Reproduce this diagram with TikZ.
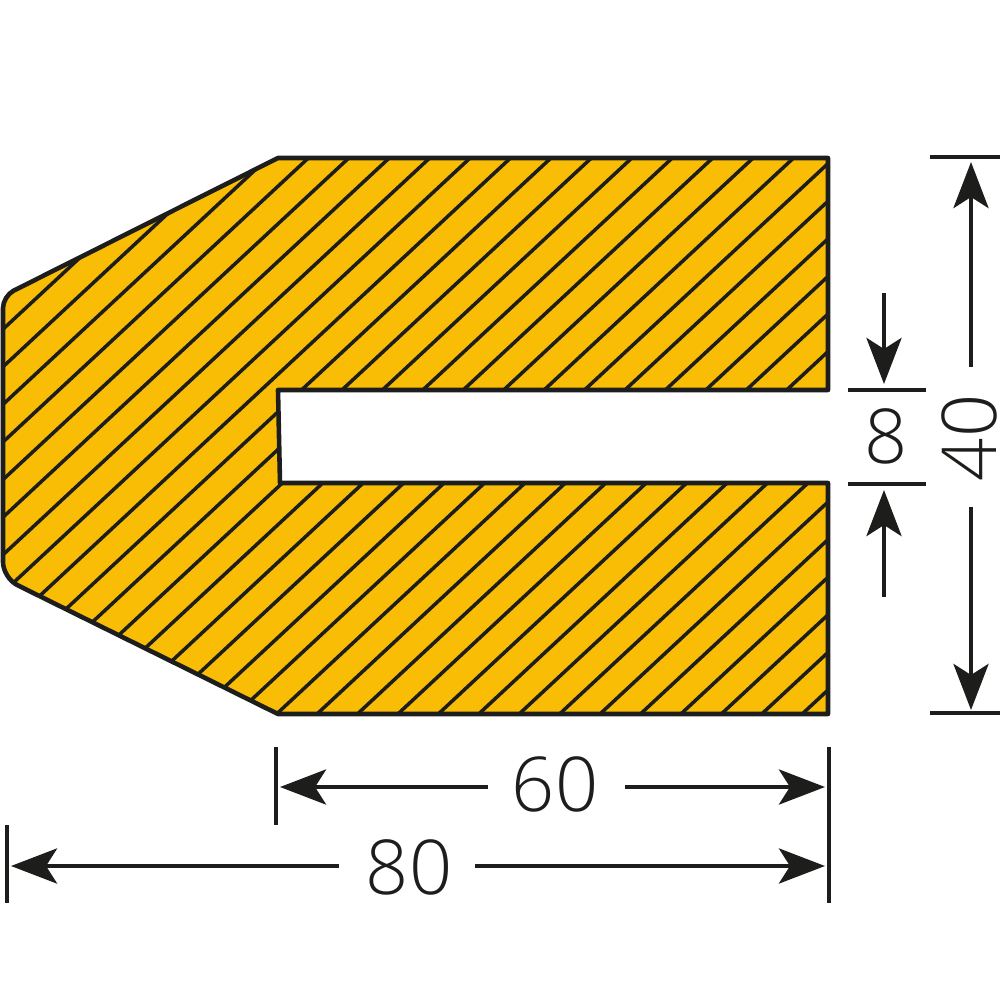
\documentclass[tikz,border=0pt]{standalone}
\usepackage{fontspec}
\setmainfont{Open Sans Light}
\usetikzlibrary{arrows.meta}
\definecolor{bumper}{HTML}{F9BD06}
\definecolor{ink}{HTML}{1D1D1B}
\begin{document}
\begin{tikzpicture}[x=.01cm, y=-.01cm]
    \tikzstyle{outline} = [draw=ink, line width=1.3pt, line join=round];
    \tikzstyle{hatch} = [ink, line width=1pt];
    \tikzstyle{extline} = [ink, line width=1.1pt];
    \tikzstyle{dimline} = [ink, line width=1.3pt, -{Stealth[length=4.6mm, width=3.5mm, inset=1.1mm]}];
    \tikzstyle{dimtext} = [inner sep=0, text=ink, font=\fontsize{21.5}{22}\selectfont];
    \useasboundingbox (0,0) rectangle (1000,1000);
    \def\shape{(278,158) -- (828,158) -- (828,390) -- (278,390) -- (280,483) -- (828,483) -- (828,714) -- (278,714)
        [rounded corners=1.6mm] -- (3,578) [rounded corners=1.2mm] -- (3,296) [sharp corners] -- cycle}
    \fill[bumper] \shape;
    \begin{scope}
        \clip \shape;
        \foreach \k in {0,...,30}
        {\draw[hatch] (0,332+37.6*\k) -- (1000,332+37.6*\k-930);}
    \end{scope}
    \draw[outline] \shape;
    % end points of the dimension lines
    \foreach \n/\x/\y in {extA/930/157, extB/1000/157, extC/930/713, extD/1000/713,
        extE/848/390, extF/926/390, extG/848/484, extH/926/484,
        extI/276/747, extJ/276/825, extK/829/747, extL/829/903, extM/7/825, extN/7/903,
        hStartA/971/367, hEndA/971/162, hStartB/971/507, hEndB/971/710,
        hStartC/884/293, hEndC/884/384, hStartD/884/597, hEndD/884/490,
        hStartE/488/787, hEndE/280/787, hStartF/625/787, hEndF/825/787,
        hStartG/339/866, hEndG/11/866, hStartH/475/866, hEndH/825/866}
    {\coordinate (\n) at (\x,\y);}
    \foreach \a/\b in {extA/extB, extC/extD, extE/extF, extG/extH, extI/extJ, extK/extL, extM/extN}
    {\draw[extline] (\a) -- (\b);}
    \foreach \a in {A,...,H}
    {\draw[dimline] (hStart\a) -- (hEnd\a);}
    \node[dimtext, rotate=90] (forty) at (969,438) {40};
    \node[dimtext] (eight) at (886,436) {8};
    \node[dimtext] (sixty) at (555,784) {60};
    \node[dimtext] (eighty) at (409,867) {80};
\end{tikzpicture}
\end{document}
